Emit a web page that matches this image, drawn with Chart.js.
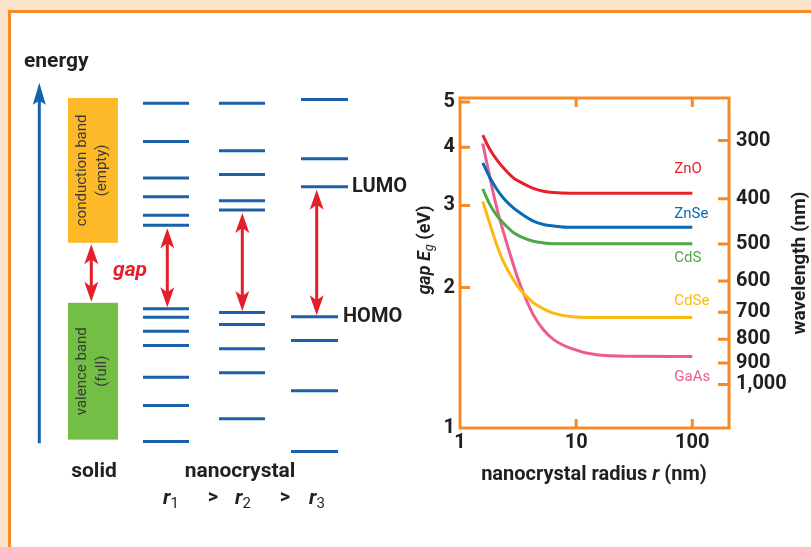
<!DOCTYPE html>
<html>
<head>
<meta charset="utf-8">
<script src="https://cdn.jsdelivr.net/npm/chart.js@4.4.1/dist/chart.umd.min.js"></script>
<style>
  html, body { margin: 0; padding: 0; }
  body { width: 811px; height: 547px; background: #fde3c9; position: relative; overflow: hidden; }
  #frame { position: absolute; left: 8px; top: 10px; width: 830px; height: 560px; background: #fff;
           border-left: 3px solid #f68b25; border-top: 3px solid #f68b25; }
  canvas { position: absolute; left: 0; top: 0; }
</style>
</head>
<body>
<div id="frame"></div>
<canvas id="levels" width="420" height="547"></canvas>
<canvas id="gapChart" width="811" height="547"></canvas>
<script>
// ---- right panel: band gap vs nanocrystal radius ----
const radius  = [1.57, 1.81, 2.07, 2.36, 2.88, 3.29, 4.28, 5.23, 6.37, 8.88, 15, 30, 100];
const gapZnO  = [4.245, 3.955, 3.763, 3.613, 3.439, 3.371, 3.264, 3.219, 3.197, 3.186, 3.186, 3.186, 3.186];
const gapZnSe = [3.703, 3.439, 3.254, 3.114, 2.964, 2.892, 2.777, 2.732, 2.712, 2.693, 2.693, 2.693, 2.693];
const gapCdS  = [3.256, 3.013, 2.858, 2.752, 2.626, 2.576, 2.515, 2.494, 2.484, 2.484, 2.484, 2.484, 2.484];
const gapCdSe = [3.062, 2.736, 2.472, 2.276, 2.079, 1.982, 1.857, 1.800, 1.763, 1.734, 1.725, 1.725, 1.725];
const gapGaAs = [4.074, 3.439, 2.968, 2.636, 2.239, 2.030, 1.748, 1.624, 1.549, 1.483, 1.435, 1.425, 1.423];
const materials = ['ZnO', 'ZnSe', 'CdS', 'CdSe', 'GaAs'];
const gapTicks = [1, 2, 3, 4, 5];
const radiusTicks = [1, 10, 100];
const wavelengthTicks = [300, 400, 500, 600, 700, 800, 900, 1000];

// ---- left panel: energy levels (arbitrary energy units) ----
const solidConduction = [54.3, 90.5];
const solidValence = [5.1, 39.3];
const r1Conduction = [89.2, 79.6, 70.5, 65.8, 61.2, 58.7];
const r1Valence = [37.8, 35.7, 32.2, 28.6, 20.7, 13.6, 4.6];
const r2Conduction = [89.2, 77.3, 71.4, 64.8, 62.5];
const r2Valence = [36.9, 33.9, 27.8, 21.8, 10.3];
const r3Conduction = [90.1, 75.3, 68.3];
const r3Valence = [35.8, 29.9, 17.3, 2.1];

const FONT = 'Roboto, "DejaVu Sans", sans-serif';
const INK = '#231f20';
const ORANGE = '#f68b25';
const LEVEL_BLUE = '#1b61aa';
const RED = '#e41f2b';
const seriesColors = ['#e8202a', '#0a6ab3', '#4ea845', '#fdb913', '#ee5b8e'];

// draw a row of text pieces with different fonts
function drawRuns(ctx, runs, x, y, align) {
  let total = 0;
  runs.forEach(r => { ctx.font = r.font; r.w = ctx.measureText(r.text).width; total += r.w; });
  let cx = align === 'center' ? x - total / 2 : x;
  ctx.textAlign = 'left';
  runs.forEach(r => { ctx.font = r.font; ctx.fillText(r.text, cx, y + (r.dy || 0)); cx += r.w; });
}

function arrowHead(ctx, x, tipY, dir, len, half) {
  ctx.beginPath();
  ctx.moveTo(x, tipY);
  ctx.lineTo(x - half, tipY + dir * len);
  ctx.lineTo(x, tipY + dir * (len - 5));
  ctx.lineTo(x + half, tipY + dir * len);
  ctx.closePath();
  ctx.fill();
}

function doubleArrow(ctx, x, top, bottom, color) {
  ctx.strokeStyle = color;
  ctx.fillStyle = color;
  ctx.lineWidth = 3;
  ctx.beginPath();
  ctx.moveTo(x, top + 10);
  ctx.lineTo(x, bottom - 10);
  ctx.stroke();
  arrowHead(ctx, x, top, 1, 20, 7);
  arrowHead(ctx, x, bottom, -1, 20, 7);
}

// ---------------- left chart ----------------
function segments(levels, x0, x1) {
  const pts = [];
  levels.forEach(e => { pts.push({x: x0, y: e}, {x: x1, y: e}, {x: x1, y: null}); });
  return pts;
}

const levelColumns = [
  {levels: r1Conduction, x0: 143, x1: 189},
  {levels: r1Valence, x0: 143, x1: 189},
  {levels: r2Conduction, x0: 219, x1: 265},
  {levels: r2Valence, x0: 219, x1: 265},
  {levels: r3Conduction, x0: 301, x1: 348},
  {levels: r3Valence, x0: 291, x1: 338}
];

const levelDecor = {
  id: 'levelDecor',
  beforeDatasetsDraw(chart) {
    const ctx = chart.ctx;
    const px = v => chart.scales.x.getPixelForValue(v);
    const py = v => chart.scales.y.getPixelForValue(v);
    ctx.save();
    // band boxes
    ctx.fillStyle = '#fdb927';
    ctx.fillRect(px(68), py(solidConduction[1]), px(118) - px(68), py(solidConduction[0]) - py(solidConduction[1]));
    ctx.fillStyle = '#73bf45';
    ctx.fillRect(px(68), py(solidValence[1]), px(118) - px(68), py(solidValence[0]) - py(solidValence[1]));
    ctx.fillStyle = '#3a3a3a';
    ctx.font = '15px ' + FONT;
    ctx.textAlign = 'center';
    ctx.textBaseline = 'middle';
    [[solidConduction, 'conduction band', '(empty)'], [solidValence, 'valence band', '(full)']].forEach(b => {
      ctx.save();
      ctx.translate(px(93), (py(b[0][0]) + py(b[0][1])) / 2);
      ctx.rotate(-Math.PI / 2);
      ctx.fillText(b[1], 0, -11);
      ctx.fillText(b[2], 0, 9);
      ctx.restore();
    });
    ctx.restore();
  },
  afterDatasetsDraw(chart) {
    const ctx = chart.ctx;
    const px = v => chart.scales.x.getPixelForValue(v);
    const py = v => chart.scales.y.getPixelForValue(v);
    ctx.save();
    // energy axis arrow
    ctx.strokeStyle = '#1461ad';
    ctx.fillStyle = '#1461ad';
    ctx.lineWidth = 3;
    ctx.beginPath();
    ctx.moveTo(px(39.3), py(4.2));
    ctx.lineTo(px(39.3), py(94.3) + 15);
    ctx.stroke();
    ctx.beginPath();
    ctx.moveTo(px(39.3), py(94.3));
    ctx.lineTo(px(39.3) - 6.5, py(94.3) + 22);
    ctx.lineTo(px(39.3), py(94.3) + 18);
    ctx.lineTo(px(39.3) + 6.5, py(94.3) + 22);
    ctx.closePath();
    ctx.fill();

    // gap arrows
    doubleArrow(ctx, px(91.3), py(solidConduction[0]) + 1.5, py(solidValence[1]) - 1, RED);
    [[167.3, r1Conduction, r1Valence], [242.3, r2Conduction, r2Valence], [316.7, r3Conduction, r3Valence]].forEach(c => {
      doubleArrow(ctx, px(c[0]), py(Math.min(...c[1])) + 3, py(Math.max(...c[2])) - 1.5, RED);
    });

    ctx.textBaseline = 'middle';
    ctx.fillStyle = RED;
    drawRuns(ctx, [{text: 'gap', font: 'italic bold 21px ' + FONT}], 113, 271);

    ctx.fillStyle = INK;
    const big = 'bold 21px ' + FONT;
    drawRuns(ctx, [{text: 'energy', font: big}], 24, 62);
    drawRuns(ctx, [{text: 'solid', font: big}], 94, 472, 'center');
    drawRuns(ctx, [{text: 'nanocrystal', font: big}], 240, 472, 'center');
    const rb = 'italic bold 21px ' + FONT, sub = '15px ' + FONT, gt = 'bold 20px ' + FONT;
    drawRuns(ctx, [{text: 'r', font: rb}, {text: '1', font: sub, dy: 5}], 171, 499, 'center');
    drawRuns(ctx, [{text: '>', font: gt}], 213, 498, 'center');
    drawRuns(ctx, [{text: 'r', font: rb}, {text: '2', font: sub, dy: 5}], 243, 499, 'center');
    drawRuns(ctx, [{text: '>', font: gt}], 285, 498, 'center');
    drawRuns(ctx, [{text: 'r', font: rb}, {text: '3', font: sub, dy: 5}], 317, 499, 'center');
    drawRuns(ctx, [{text: 'LUMO', font: 'bold 20px ' + FONT}], px(352), py(Math.min(...r3Conduction)));
    drawRuns(ctx, [{text: 'HOMO', font: 'bold 20px ' + FONT}], px(343), py(Math.max(...r3Valence)));
    ctx.restore();
  }
};

new Chart(document.getElementById('levels'), {
  type: 'scatter',
  data: {
    datasets: levelColumns.map(c => ({
      data: segments(c.levels, c.x0, c.x1),
      showLine: true,
      spanGaps: false,
      borderColor: LEVEL_BLUE,
      borderWidth: 3,
      borderCapStyle: 'butt',
      pointRadius: 0
    }))
  },
  options: {
    responsive: false,
    animation: false,
    layout: {padding: {left: 0, right: 0, top: 60, bottom: 87}},
    plugins: {legend: {display: false}, tooltip: {enabled: false}},
    scales: {
      x: {type: 'linear', display: false, min: 0, max: 420},
      y: {type: 'linear', display: false, min: 0, max: 100}
    }
  },
  plugins: [levelDecor]
});

// ---------------- right chart ----------------
const gapSeries = [gapZnO, gapZnSe, gapCdS, gapCdSe, gapGaAs];
const labelOffsets = [-24, -13, 15, -16, 21];

const frameTicks = {
  id: 'frameTicks',
  afterDatasetsDraw(chart) {
    const ctx = chart.ctx;
    const a = chart.chartArea;
    const {x, y, y2} = chart.scales;
    ctx.save();
    ctx.strokeStyle = ORANGE;
    ctx.lineWidth = 3;
    ctx.strokeRect(a.left, a.top, a.right - a.left, a.bottom - a.top);
    ctx.beginPath();
    gapTicks.forEach(v => {
      const p = y.getPixelForValue(v);
      if (p > a.top + 2 && p < a.bottom - 2) { ctx.moveTo(a.left, p); ctx.lineTo(a.left + 10, p); }
    });
    radiusTicks.forEach(v => {
      const p = x.getPixelForValue(v);
      if (p > a.left + 2 && p < a.right - 2) {
        ctx.moveTo(p, a.bottom); ctx.lineTo(p, a.bottom - 9);
        ctx.moveTo(p, a.top); ctx.lineTo(p, a.top + 9);
      }
    });
    wavelengthTicks.forEach(w => {
      const p = y2.getPixelForValue(1240 / w);
      ctx.moveTo(a.right, p); ctx.lineTo(a.right - 11, p);
    });
    ctx.stroke();

    // series labels
    ctx.textBaseline = 'middle';
    ctx.textAlign = 'left';
    ctx.font = '15px ' + FONT;
    materials.forEach((m, i) => {
      ctx.fillStyle = seriesColors[i];
      const last = gapSeries[i][gapSeries[i].length - 1];
      ctx.fillText(m, x.getPixelForValue(70), y.getPixelForValue(last) + labelOffsets[i]);
    });

    // axis titles
    ctx.fillStyle = INK;
    const b = 'bold 20px ' + FONT, bi = 'italic bold 20px ' + FONT;
    drawRuns(ctx, [{text: 'nanocrystal radius ', font: b}, {text: 'r', font: bi}, {text: ' (nm)', font: b}], 594, 475, 'center');
    ctx.save();
    ctx.translate(425, 250);
    ctx.rotate(-Math.PI / 2);
    drawRuns(ctx, [{text: 'gap ', font: 'italic bold 18px ' + FONT}, {text: 'E', font: 'italic bold 18px ' + FONT},
                   {text: 'g', font: 'italic 13px ' + FONT, dy: 5},
                   {text: ' (eV)', font: 'bold 18px ' + FONT}], 0, 0, 'center');
    ctx.restore();
    ctx.save();
    ctx.translate(800, 263);
    ctx.rotate(-Math.PI / 2);
    drawRuns(ctx, [{text: 'wavelength (nm)', font: 'bold 19px ' + FONT}], 0, 0, 'center');
    ctx.restore();
    ctx.restore();
  }
};

const tickFont = {family: FONT, size: 20, weight: 'bold'};

new Chart(document.getElementById('gapChart'), {
  type: 'line',
  data: {
    datasets: materials.map((m, i) => ({
      label: m,
      data: radius.map((r, j) => ({x: r, y: gapSeries[i][j]})),
      borderColor: seriesColors[i],
      borderWidth: 3,
      pointRadius: 0,
      cubicInterpolationMode: 'monotone',
      fill: false
    }))
  },
  options: {
    responsive: false,
    animation: false,
    layout: {padding: {left: 400, right: 0, top: 98, bottom: 59}},
    plugins: {legend: {display: false}, tooltip: {enabled: false}},
    scales: {
      x: {
        type: 'logarithmic', position: 'bottom', min: 1, max: 207,
        afterBuildTicks: s => { s.ticks = radiusTicks.map(v => ({value: v})); },
        afterFit: s => { s.height = 60; },
        ticks: {font: tickFont, color: INK, padding: 3, maxRotation: 0, callback: v => String(v)},
        grid: {display: false, drawTicks: false}, border: {display: false}
      },
      y: {
        type: 'logarithmic', position: 'left', min: 1, max: 5.1,
        afterBuildTicks: s => { s.ticks = gapTicks.map(v => ({value: v})); },
        afterFit: s => { s.width = 60; },
        ticks: {font: tickFont, color: INK, padding: 5, callback: v => String(v)},
        grid: {display: false, drawTicks: false}, border: {display: false}
      },
      y2: {
        type: 'logarithmic', position: 'right', min: 1, max: 5.1,
        afterBuildTicks: s => { s.ticks = wavelengthTicks.map(w => ({value: 1240 / w})); },
        afterFit: s => { s.width = 82; },
        ticks: {font: tickFont, color: INK, padding: 7,
                callback: (v, i) => wavelengthTicks[i].toLocaleString('en-US')},
        grid: {display: false, drawTicks: false}, border: {display: false}
      }
    }
  },
  plugins: [frameTicks]
});
</script>
</body>
</html>
